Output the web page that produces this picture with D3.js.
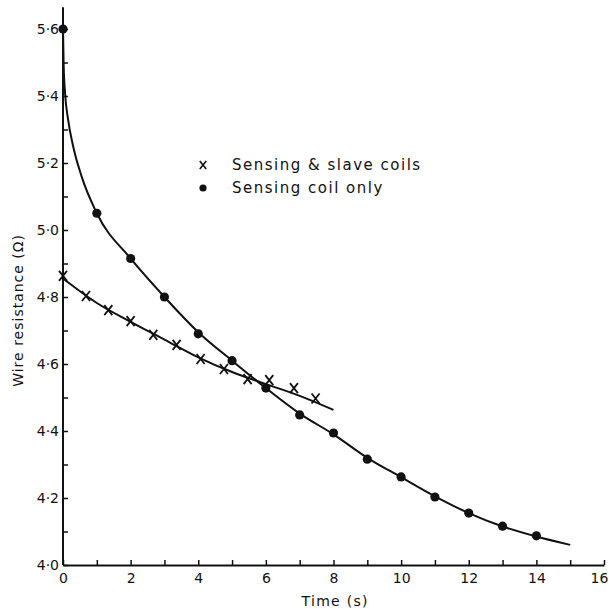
<!DOCTYPE html>
<html>
<head>
<meta charset="utf-8">
<script src="https://cdn.jsdelivr.net/npm/d3@7"></script>
<style>
  body { margin: 0; background: #fff; }
  svg { display: block; }
  text { font-family: "DejaVu Sans", sans-serif; fill: #111; }
</style>
</head>
<body>
<svg id="chart"></svg>
<script>
// measured points: sensing coil only (dots)
const dotTime = [0, 1, 2, 3, 4, 5, 6, 7, 8, 9, 10, 11, 12, 13, 14];
const dotRes = [5.60, 5.05, 4.915, 4.80, 4.69, 4.61, 4.528, 4.448, 4.394, 4.316, 4.263, 4.203, 4.155, 4.116, 4.087];

// measured points: sensing & slave coils (crosses)
const crossTime = [0, 0.68, 1.34, 2.0, 2.67, 3.36, 4.07, 4.76, 5.46, 6.1, 6.83, 7.47];
const crossRes = [4.863, 4.803, 4.761, 4.728, 4.687, 4.657, 4.615, 4.585, 4.555, 4.552, 4.528, 4.497];

// hand drawn fit curves
const dotFitTime = [0, 0.02, 0.06, 0.15, 0.3, 0.55, 1, 2, 3, 4, 5, 6, 7, 8, 9, 10, 11, 12, 13, 14, 15];
const dotFitRes = [5.60, 5.49, 5.41, 5.33, 5.25, 5.16, 5.05, 4.915, 4.80, 4.695, 4.61, 4.528, 4.452, 4.39, 4.32, 4.262, 4.205, 4.155, 4.115, 4.085, 4.06];
const crossFitTime = [0, 1, 2, 3, 4, 5, 6, 7, 8];
const crossFitRes = [4.855, 4.782, 4.726, 4.673, 4.62, 4.576, 4.54, 4.505, 4.463];

const xTicks = d3.range(0, 17);
const yTicks = d3.range(40, 57).map(d => d / 10);

const legendLabels = ["Sensing & slave coils", "Sensing coil only"];

const width = 609, height = 609;
const svg = d3.select('#chart').attr('width', width).attr('height', height);

const x = d3.scaleLinear().domain([0, 16]).range([63, 604]);
const y = d3.scaleLinear().domain([4.0, 5.6]).range([565, 29]);

const fmt = v => d3.format('.1f')(v).replace('.', '\u00b7');

// y axis (ticks point inwards)
const yAxis = svg.append('g')
  .attr('transform', `translate(${x(0)},0)`)
  .call(d3.axisLeft(y)
    .tickValues(yTicks)
    .tickSizeInner(-5)
    .tickSizeOuter(0)
    .tickPadding(4)
    .tickFormat(d => Math.round(d * 10) % 2 === 0 ? fmt(d) : ''));
yAxis.select('.domain').remove();
yAxis.selectAll('line').attr('stroke', '#111').attr('stroke-width', 1.5);
yAxis.selectAll('text').style('font-size', '14px').attr('fill', '#111');
// axis line runs a little above the top tick
svg.append('line')
  .attr('x1', x(0)).attr('x2', x(0))
  .attr('y1', y(4.0)).attr('y2', y(5.665))
  .attr('stroke', '#111').attr('stroke-width', 2);

// x axis
const xAxis = svg.append('g')
  .attr('transform', `translate(0,${y(4.0)})`)
  .call(d3.axisBottom(x)
    .tickValues(xTicks)
    .tickSizeInner(-5)
    .tickSizeOuter(0)
    .tickPadding(8)
    .tickFormat(d => d % 2 === 0 ? d : ''));
xAxis.select('.domain').attr('stroke', '#111').attr('stroke-width', 2);
xAxis.selectAll('line').attr('stroke', '#111').attr('stroke-width', 1.5);
xAxis.selectAll('text').style('font-size', '14px').attr('fill', '#111')
  .attr('dx', d => d === 16 ? -5 : 0);   // keep the last label inside the frame

// axis titles
svg.append('text')
  .attr('x', x(8.05)).attr('y', 606)
  .attr('text-anchor', 'middle')
  .style('font-size', '14px')
  .style('letter-spacing', '1.3px')
  .text('Time (s)');

svg.append('text')
  .attr('transform', `translate(23,${y(4.76)}) rotate(-90)`)
  .attr('text-anchor', 'middle')
  .style('font-size', '14px')
  .style('letter-spacing', '1px')
  .text('Wire resistance (\u03a9)');

// fit curves
const line = d3.line()
  .x(d => x(d[0]))
  .y(d => y(d[1]))
  .curve(d3.curveMonotoneX);

svg.append('path')
  .datum(d3.zip(dotFitTime, dotFitRes))
  .attr('d', line)
  .attr('fill', 'none')
  .attr('stroke', '#111')
  .attr('stroke-width', 2);

svg.append('path')
  .datum(d3.zip(crossFitTime, crossFitRes))
  .attr('d', line)
  .attr('fill', 'none')
  .attr('stroke', '#111')
  .attr('stroke-width', 2);

// markers
const crossPath = s => `M${-4 * s},${-5 * s}L${4 * s},${5 * s}M${4 * s},${-5 * s}L${-4 * s},${5 * s}`;

svg.append('g')
  .selectAll('circle')
  .data(d3.zip(dotTime, dotRes))
  .enter()
  .append('circle')
  .attr('cx', d => x(d[0]))
  .attr('cy', d => y(d[1]))
  .attr('r', 4.6)
  .attr('fill', '#111');

svg.append('g')
  .selectAll('path')
  .data(d3.zip(crossTime, crossRes))
  .enter()
  .append('path')
  .attr('transform', d => `translate(${x(d[0])},${y(d[1])})`)
  .attr('d', crossPath(1))
  .attr('stroke', '#111')
  .attr('stroke-width', 1.8)
  .attr('fill', 'none');

// legend
const legend = svg.append('g').attr('transform', 'translate(203,165)');
legend.append('path')
  .attr('d', crossPath(0.8))
  .attr('stroke', '#111')
  .attr('stroke-width', 1.6);
legend.append('circle')
  .attr('cx', 0).attr('cy', 23)
  .attr('r', 3.6)
  .attr('fill', '#111');
legend.selectAll('text')
  .data(legendLabels)
  .enter()
  .append('text')
  .attr('x', 29)
  .attr('y', (d, i) => i * 23 + 5)
  .style('font-size', '15px')
  .style('letter-spacing', '1.5px')
  .text(d => d);
</script>
</body>
</html>
